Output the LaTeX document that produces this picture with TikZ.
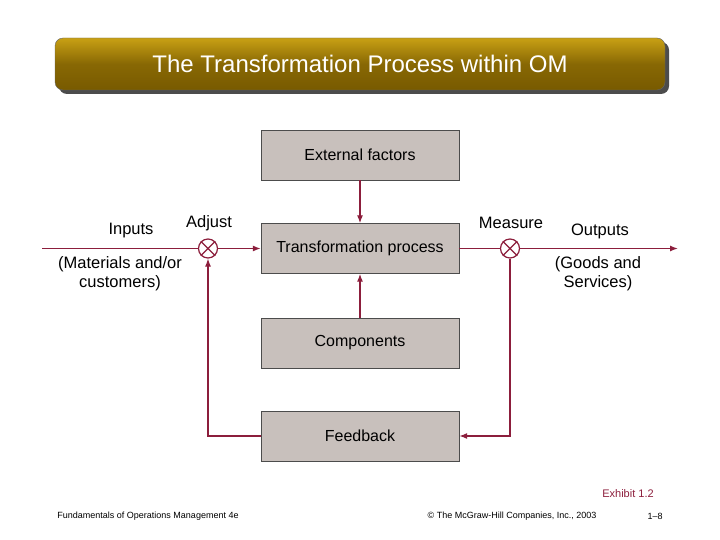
\documentclass[tikz,border=0pt]{standalone}
\usepackage{fontspec}
\setmainfont{Liberation Sans}
\usetikzlibrary{positioning,shadows,arrows.meta}
\definecolor{flowred}{RGB}{140,30,60}
\definecolor{boxgray}{RGB}{200,192,188}
\definecolor{goldtop}{RGB}{200,160,20}
\definecolor{goldbot}{RGB}{120,90,0}
\tikzset{
  stage/.style = {draw = black!70, fill = boxgray, rectangle, minimum width = 198pt, minimum height = 50pt, font = \fontsize{16}{18}\selectfont},
  flow/.style = {draw = flowred, line width = 1.2pt, -{Latex[length = 8pt, width = 6pt]}},
  junction/.style = {draw = flowred, fill = white, line width = 1.2pt, circle, minimum size = 19pt, inner sep = 0pt},
  lbl/.style = {font = \fontsize{16.5}{19}\selectfont, align = center}
}
\begin{document}
\begin{tikzpicture}[x = 1pt, y = -1pt]
        \useasboundingbox (0,0) rectangle (720,540);
        \node [rounded corners = 8pt, minimum width = 610pt, minimum height = 52pt, fill = black!70] at (364,68) {} ;
        \node [rounded corners = 8pt, minimum width = 610pt, minimum height = 52pt, top color = goldtop, bottom color = goldbot, middle color = goldbot!80!goldtop, draw = black!60, text = white, font = \fontsize{24}{28}\selectfont] (title) at (360,64) {The Transformation Process within OM} ;

        \node [stage] (ext) at (360,155) {External factors} ;
        \node [stage] (trans) at (360,248.5) {Transformation process} ;
        \node [stage] (comp) at (360,343) {Components} ;
        \node [stage] (feed) at (360,436) {Feedback} ;

        \node [junction] (adj) at (208,248.5) {} ;
        \node [junction] (meas) at (510,248.5) {} ;
        \draw [flowred, line width = 1.2pt] (adj.north west) -- (adj.south east) (adj.north east) -- (adj.south west) ;
        \draw [flowred, line width = 1.2pt] (meas.north west) -- (meas.south east) (meas.north east) -- (meas.south west) ;

        \coordinate (in) at (42,248.5) ;
        \coordinate (out) at (678,248.5) ;
        \draw [flowred, line width = 1.2pt] (in) -- (adj.west) ;
        \draw [flow] (adj.east) -- (trans.west) ;
        \draw [flowred, line width = 1.2pt] (trans.east) -- (meas.west) ;
        \draw [flow] (meas.east) -- (out) ;
        \draw [flow] (ext.south) -- (trans.north) ;
        \draw [flow] (comp.north) -- (trans.south) ;
        \draw [flow] (meas.south) |- (feed.east) ;
        \draw [flow] (feed.west) -| (adj.south) ;

        \node [lbl] (inputs) at (131,231) {Inputs} ;
        \node [lbl] (adjust) at (209,223) {Adjust} ;
        \node [lbl] (matl) at (120,274) {(Materials and/or\\customers)} ;
        \node [lbl] (measure) at (511,223) {Measure} ;
        \node [lbl] (outputs) at (600,231) {Outputs} ;
        \node [lbl] (goods) at (598,274) {(Goods and\\Services)} ;

        \node [text = flowred, font = \fontsize{11}{12}\selectfont] (exhibit) at (628,494) {Exhibit 1.2} ;
        \node [font = \fontsize{9}{10}\selectfont] (book) at (148,516) {Fundamentals of Operations Management 4e} ;
        \node [font = \fontsize{9}{10}\selectfont] (copy) at (512,516) {© The McGraw-Hill Companies, Inc., 2003} ;
        \node [font = \fontsize{9}{10}\selectfont] (page) at (655,516) {1–8} ;
    \end{tikzpicture}
\end{document}
